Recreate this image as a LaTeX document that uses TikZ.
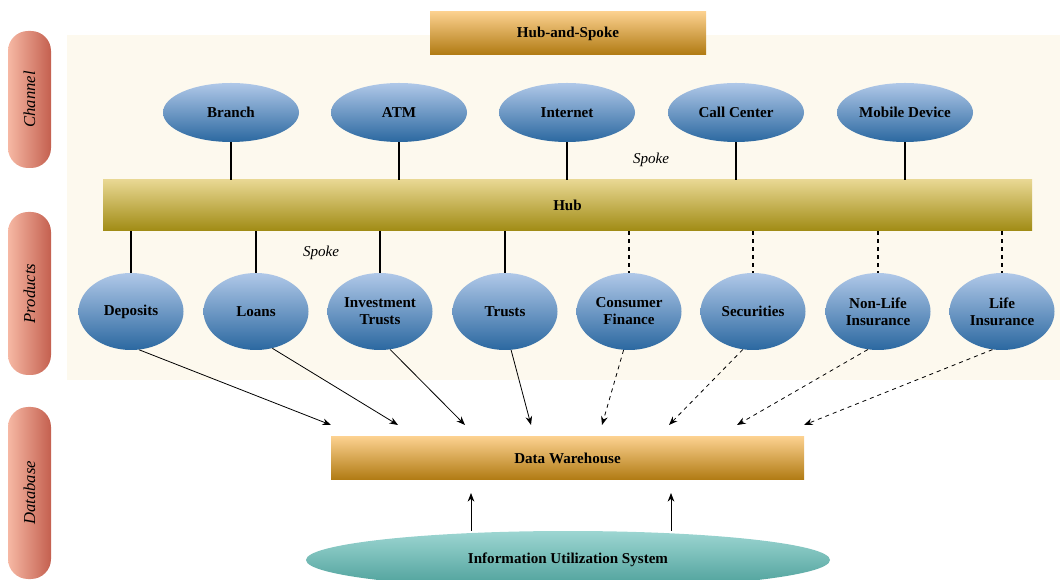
\documentclass[tikz,border=0pt]{standalone}
\usepackage{fontspec}
\setmainfont{Liberation Serif}
\usetikzlibrary{shapes.geometric,arrows.meta}
\definecolor{cream}{HTML}{FDF9EE}
\definecolor{ortop}{HTML}{FBD08E}
\definecolor{orbot}{HTML}{B07A12}
\definecolor{hubtop}{HTML}{E8D792}
\definecolor{hubbot}{HTML}{A08B14}
\definecolor{eltop}{HTML}{B0C8E8}
\definecolor{elbot}{HTML}{2B68A0}
\definecolor{pilleft}{HTML}{F6B8A4}
\definecolor{pilright}{HTML}{C4604F}
\definecolor{teatop}{HTML}{9DD6D2}
\definecolor{teabot}{HTML}{4A9E98}
\newcommand{\lbl}{\fontsize{11.3}{12.8}\selectfont\bfseries}
\newcommand{\sidefont}{\fontsize{12.5}{14}\selectfont\itshape}
\begin{document}
\begin{tikzpicture}[x=0.75pt,y=-0.75pt,
  box/.style={rectangle,inner sep=0pt,top color=ortop,bottom color=orbot,font=\lbl},
  chan/.style={ellipse,inner sep=0pt,minimum width=102pt,minimum height=44.25pt,top color=eltop,bottom color=elbot,font=\lbl},
  prod/.style={chan,minimum width=78.75pt,minimum height=57.75pt,align=center},
  sidebar/.style={rectangle,inner sep=0pt,rounded corners=15pt,minimum width=32.25pt,left color=pilleft,right color=pilright},
  spokelabel/.style={font=\fontsize{11.3}{12.8}\selectfont\itshape},
  link/.style={line width=1.3pt},
  feed/.style={line width=0.6pt,-{Stealth[length=6.5pt,width=5pt]}}]
  \useasboundingbox (0,0) rectangle (1060,580);
  \fill[cream] (67,35) rectangle (1060,380);
  % side bars
  \node[sidebar,minimum height=102.75pt] (channel) at (29.5,99.5) {\rotatebox{90}{\sidefont Channel}};
  \node[sidebar,minimum height=122.25pt] (products) at (29.5,293.5) {\rotatebox{90}{\sidefont Products}};
  \node[sidebar,minimum height=129pt] (database) at (29.5,493) {\rotatebox{90}{\sidefont Database}};
  % boxes
  \node[box,minimum width=207pt,minimum height=32.25pt] (title) at (568,33.5) {Hub-and-Spoke};
  \node[rectangle,inner sep=0pt,minimum width=696.75pt,minimum height=38.25pt,top color=hubtop,bottom color=hubbot,font=\lbl] (hub) at (567.5,205.5) {Hub};
  \node[box,minimum width=354.75pt,minimum height=32.25pt] (dw) at (567.5,458.5) {Data Warehouse};
  \node[ellipse,inner sep=0pt,minimum width=393pt,minimum height=43.5pt,top color=teatop,bottom color=teabot,font=\lbl] (ius) at (568,560) {Information Utilization System};
  % channels
  \foreach \n/\txt/\x in {branch/Branch/231,atm/ATM/399,internet/Internet/567,call/Call Center/736,mobile/Mobile Device/905}{
    \node[chan] (\n) at (\x,112.5) {\txt};
    \draw[link] (\n) -- (\n |- hub.north);
  }
  % products
  \foreach \n/\txt/\x/\a/\tx in {dep/Deposits/131/282/331,loan/Loans/256/294/398,invt/{Investment\\Trusts}/380/285/465,trust/Trusts/505/279/531}{
    \node[prod] (\n) at (\x,311.5) {\txt};
    \draw[link] (hub.south -| \n) -- (\n);
    \coordinate (in\n) at (\tx,425);
    \draw[feed] (\n.\a) -- (in\n);
  }
  \foreach \n/\txt/\x/\a/\tx in {cons/{Consumer\\Finance}/629/262/602,sec/Securities/753/255/669,nonlife/{Non-Life\\Insurance}/878/255/737,life/{Life\\Insurance}/1002/256/804}{
    \node[prod] (\n) at (\x,311.5) {\txt};
    \draw[link,dashed] (hub.south -| \n) -- (\n);
    \coordinate (in\n) at (\tx,425);
    \draw[feed,dashed] (\n.\a) -- (in\n);
  }
  \node[spokelabel] (spokeup) at (651,160) {Spoke};
  \node[spokelabel] (spokelow) at (321,253) {Spoke};
  % information utilization back to warehouse
  \foreach \n/\x in {upa/471,upb/671}{
    \coordinate (\n) at (\x,493);
    \draw[feed] (ius.north -| \n) -- (\n);
  }
\end{tikzpicture}
\end{document}
